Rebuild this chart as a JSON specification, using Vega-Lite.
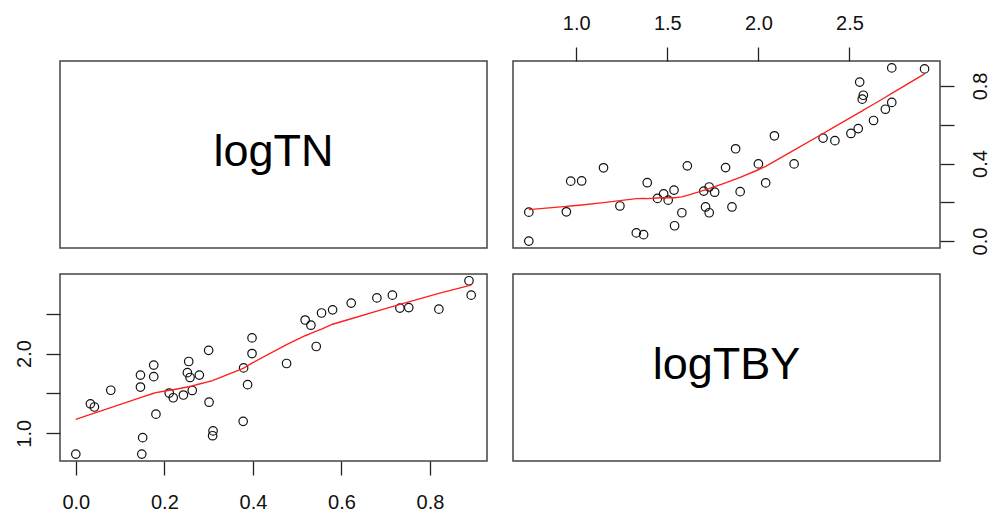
{
  "$schema": "https://vega.github.io/schema/vega-lite/v6.json",
  "padding": {"left": 13, "top": 12, "right": 3, "bottom": 5},
  "background": "white",
  "datasets": {
    "pairs": [
      {"logTN": 0.000, "logTBY": 0.740},
      {"logTN": 0.033, "logTBY": 1.370},
      {"logTN": 0.042, "logTBY": 1.330},
      {"logTN": 0.079, "logTBY": 1.540},
      {"logTN": 0.146, "logTBY": 1.730},
      {"logTN": 0.146, "logTBY": 1.580},
      {"logTN": 0.151, "logTBY": 0.946},
      {"logTN": 0.149, "logTBY": 0.740},
      {"logTN": 0.176, "logTBY": 1.855},
      {"logTN": 0.176, "logTBY": 1.710},
      {"logTN": 0.181, "logTBY": 1.240},
      {"logTN": 0.211, "logTBY": 1.505},
      {"logTN": 0.220, "logTBY": 1.446},
      {"logTN": 0.243, "logTBY": 1.480},
      {"logTN": 0.255, "logTBY": 1.900},
      {"logTN": 0.252, "logTBY": 1.760},
      {"logTN": 0.258, "logTBY": 1.700},
      {"logTN": 0.263, "logTBY": 1.537},
      {"logTN": 0.279, "logTBY": 1.730},
      {"logTN": 0.300, "logTBY": 2.040},
      {"logTN": 0.301, "logTBY": 1.390},
      {"logTN": 0.310, "logTBY": 1.030},
      {"logTN": 0.309, "logTBY": 0.970},
      {"logTN": 0.378, "logTBY": 1.150},
      {"logTN": 0.379, "logTBY": 1.820},
      {"logTN": 0.388, "logTBY": 1.610},
      {"logTN": 0.398, "logTBY": 2.196},
      {"logTN": 0.398, "logTBY": 2.000},
      {"logTN": 0.476, "logTBY": 1.875},
      {"logTN": 0.518, "logTBY": 2.420},
      {"logTN": 0.531, "logTBY": 2.355},
      {"logTN": 0.543, "logTBY": 2.088},
      {"logTN": 0.555, "logTBY": 2.508},
      {"logTN": 0.580, "logTBY": 2.548},
      {"logTN": 0.622, "logTBY": 2.632},
      {"logTN": 0.680, "logTBY": 2.697},
      {"logTN": 0.715, "logTBY": 2.732},
      {"logTN": 0.732, "logTBY": 2.570},
      {"logTN": 0.752, "logTBY": 2.576},
      {"logTN": 0.820, "logTBY": 2.556},
      {"logTN": 0.888, "logTBY": 2.912},
      {"logTN": 0.893, "logTBY": 2.732}
    ]
  },
  "columns": 2,
  "spacing": 26,
  "bounds": "flush",
  "concat": [
    {
      "width": 427,
      "height": 187,
      "view": {"stroke": "#444", "strokeWidth": 1.5},
      "data": {"values": [{"label": "logTN", "px": 0.5, "py": 0.5}]},
      "mark": {"type": "text", "font": "Liberation Sans", "fontSize": 45, "color": "#000", "align": "center", "baseline": "middle", "dy": -3},
      "encoding": {
        "x": {"field": "px", "type": "quantitative", "scale": {"domain": [0, 1]}, "axis": null},
        "y": {"field": "py", "type": "quantitative", "scale": {"domain": [0, 1]}, "axis": null},
        "text": {"field": "label"}
      }
    },
    {
      "width": 427,
      "height": 187,
      "data": {"name": "pairs"},
      "layer": [
        {
          "mark": {"type": "point", "shape": "circle", "filled": false, "size": 72, "stroke": "#111", "strokeWidth": 1.2, "opacity": 1},
          "encoding": {
            "x": {
              "field": "logTBY", "type": "quantitative",
              "scale": {"domain": [0.6532, 2.9968], "nice": false, "zero": false},
              "axis": {"orient": "top", "values": [1.0, 1.5, 2.0, 2.5], "format": ".1f", "labelPadding": 14, "labelBaseline": "bottom", "labelAlign": "center"}
            },
            "y": {
              "field": "logTN", "type": "quantitative",
              "scale": {"domain": [-0.0357, 0.9287], "nice": false, "zero": false},
              "axis": {
                "orient": "right", "values": [0, 0.2, 0.4, 0.6, 0.8], "labelAngle": -90, "labelPadding": 16,
                "labelBaseline": "top", "labelAlign": "center",
                "labelExpr": "(datum.value == 0 || datum.value == 0.4 || datum.value == 0.8) ? format(datum.value, '.1f') : ''"
              }
            }
          }
        },
        {
          "transform": [{"loess": "logTN", "on": "logTBY", "bandwidth": 0.6667}],
          "mark": {"type": "line", "color": "#ff2020", "strokeWidth": 1.4},
          "encoding": {
            "x": {"field": "logTBY", "type": "quantitative"},
            "y": {"field": "logTN", "type": "quantitative"}
          }
        }
      ]
    },
    {
      "width": 427,
      "height": 187,
      "data": {"name": "pairs"},
      "layer": [
        {
          "mark": {"type": "point", "shape": "circle", "filled": false, "size": 72, "stroke": "#111", "strokeWidth": 1.2, "opacity": 1},
          "encoding": {
            "x": {
              "field": "logTN", "type": "quantitative",
              "scale": {"domain": [-0.0357, 0.9287], "nice": false, "zero": false},
              "axis": {"orient": "bottom", "values": [0, 0.2, 0.4, 0.6, 0.8], "format": ".1f", "labelPadding": 17, "labelBaseline": "top", "labelAlign": "center"}
            },
            "y": {
              "field": "logTBY", "type": "quantitative",
              "scale": {"domain": [0.6532, 2.9968], "nice": false, "zero": false},
              "axis": {
                "orient": "left", "values": [1.0, 1.5, 2.0, 2.5], "labelAngle": -90, "labelPadding": 12,
                "labelBaseline": "bottom", "labelAlign": "center",
                "labelExpr": "(datum.value == 1 || datum.value == 2) ? format(datum.value, '.1f') : ''"
              }
            }
          }
        },
        {
          "transform": [{"loess": "logTBY", "on": "logTN", "bandwidth": 0.6667}],
          "mark": {"type": "line", "color": "#ff2020", "strokeWidth": 1.4},
          "encoding": {
            "x": {"field": "logTN", "type": "quantitative"},
            "y": {"field": "logTBY", "type": "quantitative"}
          }
        }
      ]
    },
    {
      "width": 427,
      "height": 187,
      "view": {"stroke": "#444", "strokeWidth": 1.5},
      "data": {"values": [{"label": "logTBY", "px": 0.5, "py": 0.5}]},
      "mark": {"type": "text", "font": "Liberation Sans", "fontSize": 45, "color": "#000", "align": "center", "baseline": "middle", "dy": -3},
      "encoding": {
        "x": {"field": "px", "type": "quantitative", "scale": {"domain": [0, 1]}, "axis": null},
        "y": {"field": "py", "type": "quantitative", "scale": {"domain": [0, 1]}, "axis": null},
        "text": {"field": "label"}
      }
    }
  ],
  "config": {
    "view": {"stroke": "#444", "strokeWidth": 1.5},
    "axis": {
      "title": null,
      "grid": false,
      "domain": false,
      "tickSize": 14,
      "tickWidth": 1.3,
      "tickColor": "#222",
      "labelFont": "Liberation Sans",
      "labelFontSize": 20,
      "labelColor": "#111",
      "labelOverlap": false,
      "labelFlush": false,
      "labelBound": false
    }
  }
}
